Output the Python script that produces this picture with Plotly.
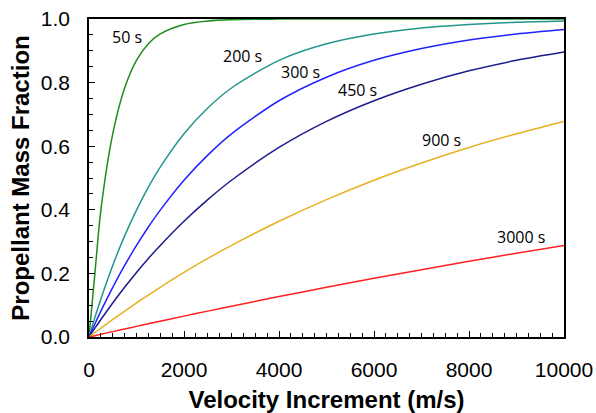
import plotly.graph_objects as go

velocity = [0, 125, 250, 500, 750, 1000, 1250, 1500, 2000, 2500, 3000, 4000, 5000, 6000, 7000, 8000, 9000, 10000]

isp_50 = [0, 0.2015, 0.399, 0.639, 0.783, 0.870, 0.922, 0.953, 0.983, 0.994, 0.998, 0.9997, 1.0, 1.0, 1.0, 1.0, 1.0, 1.0]
isp_200 = [0, 0.0617, 0.1196, 0.225, 0.318, 0.399, 0.471, 0.534, 0.639, 0.720, 0.783, 0.870, 0.922, 0.953, 0.972, 0.983, 0.990, 0.994]
isp_300 = [0, 0.0416, 0.0814, 0.1563, 0.225, 0.288, 0.346, 0.399, 0.493, 0.572, 0.639, 0.743, 0.817, 0.870, 0.907, 0.934, 0.953, 0.967]
isp_450 = [0, 0.0279, 0.0551, 0.1071, 0.1563, 0.203, 0.247, 0.288, 0.364, 0.432, 0.493, 0.596, 0.678, 0.743, 0.795, 0.837, 0.870, 0.896]
isp_900 = [0, 0.0141, 0.0279, 0.0551, 0.0814, 0.1071, 0.1320, 0.1563, 0.203, 0.247, 0.288, 0.364, 0.432, 0.493, 0.547, 0.596, 0.639, 0.678]
isp_3000 = [0, 0.0042, 0.0085, 0.0169, 0.0252, 0.0334, 0.0416, 0.0497, 0.0657, 0.0814, 0.0969, 0.1271, 0.1563, 0.1845, 0.2117, 0.238, 0.2635, 0.288]

x_ticks = [0, 2000, 4000, 6000, 8000, 10000]
x_tick_text = ["0", "2000", "4000", "6000", "8000", "10000"]
y_ticks = [0, 0.2, 0.4, 0.6, 0.8, 1.0]
y_tick_text = ["0.0", "0.2", "0.4", "0.6", "0.8", "1.0"]

series = [
    ("50 s", isp_50, "#1e8c1e"),
    ("200 s", isp_200, "#23968c"),
    ("300 s", isp_300, "#2222ff"),
    ("450 s", isp_450, "#1c1c8c"),
    ("900 s", isp_900, "#e8b020"),
    ("3000 s", isp_3000, "#ff2020"),
]

label_pos = {
    "50 s": (800, 0.943),
    "200 s": (3221, 0.884),
    "300 s": (4442, 0.833),
    "450 s": (5663, 0.777),
    "900 s": (7411, 0.619),
    "3000 s": (9095, 0.316),
}

fig = go.Figure()
for name, ys, col in series:
    fig.add_trace(go.Scatter(x=velocity, y=ys, mode="lines", name=name,
                             line=dict(color=col, width=1.5, shape="spline", smoothing=0.8),
                             showlegend=False, hoverinfo="skip"))

annotations = []
for name, (ax, ay) in label_pos.items():
    annotations.append(dict(x=ax, y=ay, text=name, showarrow=False, xref="x", yref="y",
                            font=dict(family="Open Sans", size=16, color="black")))

fig.update_layout(
    width=596, height=413,
    margin=dict(l=89, r=32, t=19, b=76),
    paper_bgcolor="white", plot_bgcolor="white",
    annotations=annotations,
    font=dict(family="Liberation Sans, Arial", color="black"),
)
fig.update_xaxes(
    range=[0, 10000], tickvals=x_ticks, ticktext=x_tick_text, automargin=False,
    ticks="inside", ticklen=6, tickwidth=1, tickcolor="black",
    minor=dict(dtick=250, ticks="inside", ticklen=4, tickcolor="black", showgrid=False),
    showline=True, linecolor="black", linewidth=1.5, mirror=True,
    showgrid=False, zeroline=False, ticklabelstandoff=13,
    tickfont=dict(size=21, family="Liberation Sans, Arial"),
    title=dict(text="<b>Velocity Increment (m/s)</b>", font=dict(size=24, family="Liberation Sans, Arial"), standoff=20),
)
fig.update_yaxes(
    range=[0, 1.0], tickvals=y_ticks, ticktext=y_tick_text, automargin=False,
    ticks="inside", ticklen=6, tickwidth=1, tickcolor="black",
    minor=dict(dtick=0.05, ticks="inside", ticklen=4, tickcolor="black", showgrid=False),
    showline=True, linecolor="black", linewidth=1.5, mirror=True,
    showgrid=False, zeroline=False, ticklabelstandoff=13,
    tickfont=dict(size=21, family="Liberation Sans, Arial"),
    title=dict(text="<b>Propellant Mass Fraction</b>", font=dict(size=24, family="Liberation Sans, Arial"), standoff=4),
)

fig.write_html("out.html")
